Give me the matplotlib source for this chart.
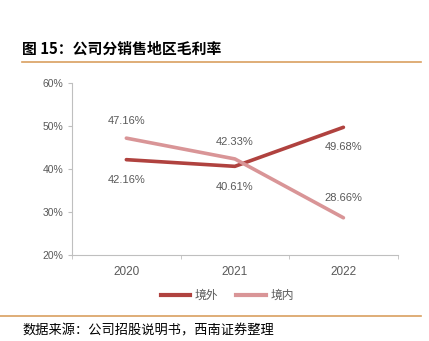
import numpy as np
import matplotlib.pyplot as plt
from matplotlib.lines import Line2D

plt.rcParams['font.family'] = ['Liberation Sans', 'Noto Sans CJK SC', 'DejaVu Sans']

years = ['2020', '2021', '2022']
overseas = [42.16, 40.61, 49.68]
domestic = [47.16, 42.33, 28.66]
names = ['境外', '境内']
yticks = [20, 30, 40, 50, 60]

c_over = '#b0423f'
c_dom = '#d99597'
grey = '#595959'

fig = plt.figure(figsize=(4.29, 3.41), dpi=100)
ax = fig.add_axes([0.168, 0.252, 0.759, 0.505])

x = np.arange(len(years))
ax.plot(x, overseas, color=c_over, lw=2.6, solid_capstyle='round')
ax.plot(x, domestic, color=c_dom, lw=2.6, solid_capstyle='round')

# label offsets (points): above for the upper series, below for the lower one,
# except 2022 where labels sit inside the gap
offs_over = [-15, -15, -14]
offs_dom = [12, 12, 14]
for i in range(len(years)):
    ax.annotate(f'{overseas[i]:.2f}%', (x[i], overseas[i]), xytext=(0, offs_over[i]),
                textcoords='offset points', ha='center', va='center', fontsize=8, color=grey)
    ax.annotate(f'{domestic[i]:.2f}%', (x[i], domestic[i]), xytext=(0, offs_dom[i]),
                textcoords='offset points', ha='center', va='center', fontsize=8, color=grey)

ax.set_xlim(-0.5, 2.5)
ax.set_ylim(20, 60)
ax.set_xticks(x)
ax.set_xticklabels(years)
ax.set_xticks([-0.5, 0.5, 1.5, 2.5], minor=True)
ax.set_yticks(yticks)
ax.set_yticklabels([f'{v}%' for v in yticks])
ax.tick_params(axis='x', which='major', length=0, pad=8, labelsize=8.5, labelcolor=grey)
ax.tick_params(axis='x', which='minor', length=3, color='#bfbfbf')
ax.tick_params(axis='y', length=3, color='#bfbfbf', labelsize=7.5, labelcolor=grey, pad=3)
for s in ['top', 'right']:
    ax.spines[s].set_visible(False)
for s in ['left', 'bottom']:
    ax.spines[s].set_color('#bfbfbf')
    ax.spines[s].set_linewidth(0.8)

handles = [Line2D([], [], color=c_over, lw=3), Line2D([], [], color=c_dom, lw=3)]
fig.legend(handles, names, loc='center', bbox_to_anchor=(0.53, 0.133), ncol=2, frameon=False,
           labelcolor=grey, handlelength=2.5, handletextpad=0.4, columnspacing=1.5,
           prop={'family': ['Noto Sans CJK SC'], 'size': 8.5})

fig.text(0.052, 0.858, '图 15：公司分销售地区毛利率', fontsize=10.7, fontweight='bold',
         family=['Noto Sans CJK SC'], va='center', ha='left')
fig.add_artist(Line2D([0.052, 0.982], [0.818, 0.818], color='#d9a060', lw=1.2))
fig.add_artist(Line2D([0.0, 0.982], [0.074, 0.074], color='#d9a060', lw=1.2))
fig.text(0.052, 0.03, '数据来源：公司招股说明书，西南证券整理', fontsize=9.5, style='italic',
         family=['Noto Sans CJK SC'], va='center', ha='left')

fig.savefig('out.png', dpi=100)
